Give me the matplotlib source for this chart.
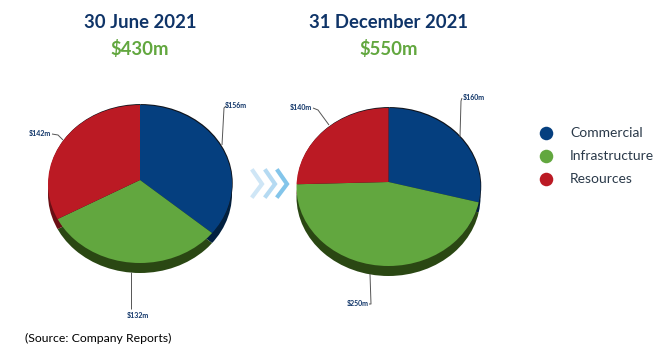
import matplotlib
matplotlib.use('Agg')
import matplotlib.pyplot as plt
from matplotlib.patches import Ellipse

plt.rcParams['font.family'] = ['Lato', 'DejaVu Sans']

W, H = 672, 359

categories = ['Commercial', 'Infrastructure', 'Resources']
june_values = [156, 132, 142]
dec_values = [160, 250, 140]
june_total = '$430m'
dec_total = '$550m'
june_title = '30 June 2021'
dec_title = '31 December 2021'
source = '(Source: Company Reports)'

colors = ['#053f7f', '#62a73f', '#bb1a24']
side_colors = ['#02203f', '#2a4713', '#6b0f15']
navy = '#0f3468'
green = '#62a73f'

fig = plt.figure(figsize=(W / 100, H / 100), dpi=100, facecolor='white')

# pixel overlay for text, leaders and chevrons
bg = fig.add_axes([0, 0, 1, 1], zorder=3)
bg.set_xlim(0, W)
bg.set_ylim(H, 0)
bg.axis('off')
bg.patch.set_alpha(0)


def draw_pie(values, cx, cy, apex_up, rx=92, ry=79, depth=10):
    # axes box sized so that the pie comes out as a flat ellipse
    ax = fig.add_axes([(cx - rx - 4) / W, 1 - (cy + ry + depth + 6) / H,
                       (2 * rx + 8) / W, (2 * ry + depth + 12) / H], zorder=1)

    # apex sits above the ellipse centre, so draw oversized and clip to the ellipse
    def layer(cols, dx, dy):
        wedges, _ = ax.pie(values, colors=cols, startangle=90, counterclock=False,
                           radius=1.4, center=(dx, dy + apex_up / ry))
        clip = Ellipse((dx, dy), 2, 2, transform=ax.transData)
        for w in wedges:
            w.set_clip_on(True)  # pie turns clipping off
            w.set_clip_path(clip)

    layer(side_colors, 0, -depth / ry)
    layer(['#10141c'] * 3, 0.008, 0.012)
    layer(colors, 0, 0)
    ax.set_xlim(-(rx + 4) / rx, (rx + 4) / rx)
    ax.set_ylim(-(ry + depth + 6) / ry, (ry + 6) / ry)
    ax.set_aspect(ry / rx)
    ax.axis('off')


draw_pie(june_values, 140, 184, 4)
draw_pie(dec_values, 388.5, 187, 5)

# titles
bg.text(140, 23, june_title, color=navy, fontsize=13.3, fontweight='bold', ha='center', va='center')
bg.text(140, 49, june_total, color=green, fontsize=13.3, fontweight='bold', ha='center', va='center')
bg.text(388.5, 23, dec_title, color=navy, fontsize=13.3, fontweight='bold', ha='center', va='center')
bg.text(389, 49, dec_total, color=green, fontsize=13.3, fontweight='bold', ha='center', va='center')


def leader(label, points, tx, ty, ha):
    xs, ys = zip(*points)
    bg.plot(xs, ys, color='#555555', lw=0.7, solid_capstyle='butt')
    bg.text(tx, ty, label, color=navy, fontsize=5, fontweight='bold', ha=ha, va='center')


leader('$156m', [(222, 145), (224, 108), (226, 106)], 225, 106, 'left')
leader('$142m', [(63, 140), (58, 135), (52, 134)], 51, 134, 'right')
leader('$132m', [(131, 272), (131, 309)], 138, 315, 'center')
leader('$160m', [(460, 137), (461, 101), (462, 98)], 463, 98, 'left')
leader('$140m', [(329, 125), (318, 110), (313, 108)], 312, 108, 'right')
leader('$250m', [(370, 274), (371, 304), (369, 304)], 369, 304, 'right')

# chevrons between the pies
for cx, col in zip([257, 270, 282], ['#cfe6f6', '#b5daf2', '#83c5ea']):
    bg.plot([cx - 4, cx + 5, cx - 4], [171, 184, 196], color=col, lw=3, solid_joinstyle='miter')

# legend
for name, col, y in zip(categories, colors, [133, 156, 179]):
    bg.scatter([546], [y], s=95, color=col, linewidths=0)
    bg.text(570, y, name, color='#2b3a4a', fontsize=10, ha='left', va='center')

bg.text(25, 338, source, color='black', fontsize=8.8, ha='left', va='center')

fig.savefig('out.png', dpi=100, facecolor='white')
